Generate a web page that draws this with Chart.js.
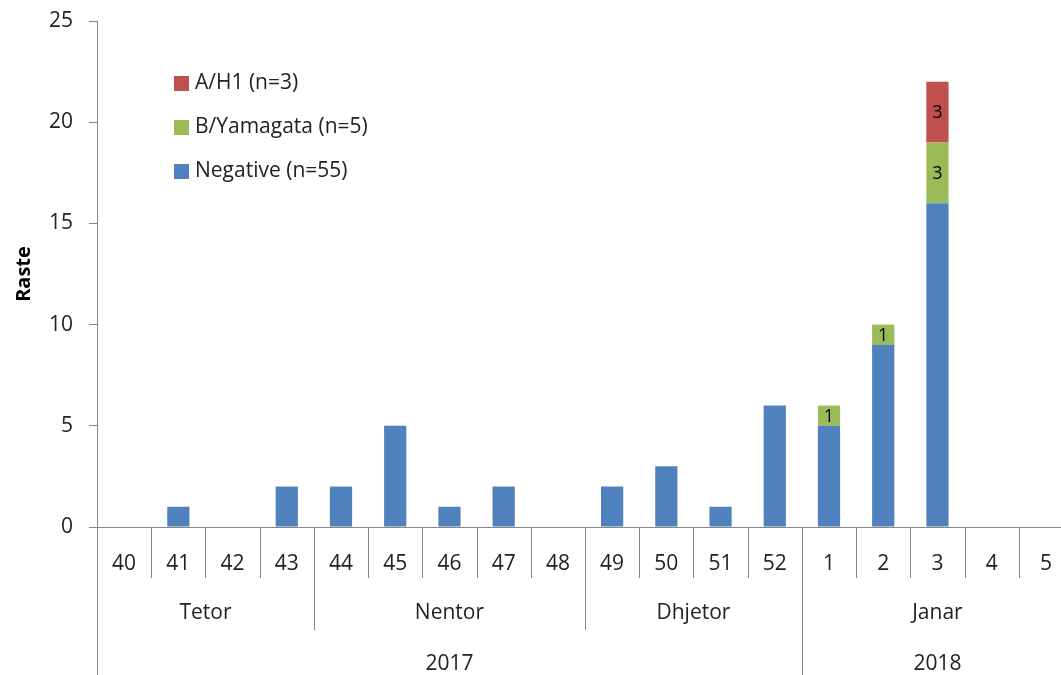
<!DOCTYPE html>
<html>
<head>
<meta charset="utf-8">
<script src="https://cdn.jsdelivr.net/npm/chart.js@4/dist/chart.umd.min.js"></script>
<style>
  html, body { margin: 0; padding: 0; background: #fff; overflow: hidden; }
  #wrap { width: 1061px; height: 675px; overflow: hidden; }
</style>
</head>
<body>
<div id="wrap"><canvas id="chart" width="1075" height="675"></canvas></div>
<script>
// week numbers on the axis, then the month and year groups under them
const weekLabels = ['40', '41', '42', '43', '44', '45', '46', '47', '48', '49', '50', '51', '52', '1', '2', '3', '4', '5'];
const monthLabels = ['Tetor', 'Nentor', 'Dhjetor', 'Janar'];
const monthSpans = [4, 5, 4, 5];
const yearLabels = ['2017', '2018'];
const yearSpans = [13, 5];

// cases per week
const negative = [0, 1, 0, 2, 2, 5, 1, 2, 0, 2, 3, 1, 6, 5, 9, 16, 0, 0];
const bYamagata = [0, 0, 0, 0, 0, 0, 0, 0, 0, 0, 0, 0, 0, 1, 1, 3, 0, 0];
const aH1 = [0, 0, 0, 0, 0, 0, 0, 0, 0, 0, 0, 0, 0, 0, 0, 3, 0, 0];
const seriesNames = ['Negative (n=55)', 'B/Yamagata (n=5)', 'A/H1 (n=3)'];

const FONT = '"Open Sans", sans-serif';
const AXIS = '#868686';

// month / year rows under the week labels
const groupAxis = {
    id: 'groupAxis',
    afterDraw(chart) {
        const ctx = chart.ctx;
        const x = chart.scales.x;
        const bottom = chart.chartArea.bottom;
        const half = (x.getPixelForValue(1) - x.getPixelForValue(0)) / 2;
        const edge = i => x.getPixelForValue(i) - half;

        ctx.save();
        ctx.strokeStyle = AXIS;
        ctx.lineWidth = 1;
        const line = (px, y2) => {
            const xx = Math.round(px) + 0.5;
            ctx.beginPath();
            ctx.moveTo(xx, bottom);
            ctx.lineTo(xx, y2);
            ctx.stroke();
        };
        for (let i = 1; i < weekLabels.length; i++) line(edge(i), 578);
        line(edge(0), 675);

        ctx.fillStyle = '#222';
        ctx.font = '21px ' + FONT;
        ctx.textAlign = 'center';
        ctx.textBaseline = 'middle';

        let start = 0;
        monthLabels.forEach((m, k) => {
            const end = start + monthSpans[k];
            if (start > 0) line(edge(start), 630);
            ctx.fillText(m, (edge(start) + edge(end)) / 2, 613);
            start = end;
        });
        start = 0;
        yearLabels.forEach((y, k) => {
            const end = start + yearSpans[k];
            if (start > 0) line(edge(start), 675);
            ctx.fillText(y, (edge(start) + edge(end)) / 2, 664);
            start = end;
        });
        ctx.restore();
    }
};

// numbers inside the virus segments
const segLabels = {
    id: 'segLabels',
    afterDatasetsDraw(chart) {
        const ctx = chart.ctx;
        ctx.save();
        ctx.fillStyle = '#000';
        ctx.font = '18px ' + FONT;
        ctx.textAlign = 'center';
        ctx.textBaseline = 'middle';
        [1, 2].forEach(d => {
            const meta = chart.getDatasetMeta(d);
            chart.data.datasets[d].data.forEach((v, i) => {
                if (!v) return;
                const bar = meta.data[i];
                ctx.fillText(String(v), bar.x, (bar.y + bar.base) / 2 + 1);
            });
        });
        ctx.restore();
    }
};

// legend inside the plot, top series first
const boxLegend = {
    id: 'boxLegend',
    afterDraw(chart) {
        const ctx = chart.ctx;
        ctx.save();
        ctx.font = '21px ' + FONT;
        ctx.textBaseline = 'middle';
        const items = chart.data.datasets.slice().reverse();
        items.forEach((ds, k) => {
            const cy = 83 + k * 44;
            ctx.fillStyle = ds.backgroundColor;
            ctx.fillRect(174, cy - 7, 15, 15);
            ctx.fillStyle = '#222';
            ctx.fillText(ds.label, 195, cy);
        });
        ctx.restore();
    }
};

const ctx = document.getElementById('chart').getContext('2d');
new Chart(ctx, {
    type: 'bar',
    data: {
        labels: weekLabels,
        datasets: [
            { label: seriesNames[0], data: negative, backgroundColor: '#4F81BD' },
            { label: seriesNames[1], data: bYamagata, backgroundColor: '#9BBB59' },
            { label: seriesNames[2], data: aH1, backgroundColor: '#C0504D' }
        ]
    },
    options: {
        responsive: false,
        animation: false,
        layout: { padding: { top: 21, right: 2, left: 0, bottom: 0 } },
        datasets: { bar: { barPercentage: 0.41, categoryPercentage: 1, borderWidth: 0 } },
        plugins: { legend: { display: false }, tooltip: { enabled: false } },
        scales: {
            x: {
                stacked: true,
                grid: { display: false },
                border: { display: true, color: AXIS },
                ticks: { color: '#222', font: { family: FONT, size: 21 }, padding: 16, maxRotation: 0, autoSkip: false },
                afterFit(s) { s.height = 148; }
            },
            y: {
                stacked: true,
                min: 0,
                max: 25,
                grid: { drawOnChartArea: false, drawTicks: true, tickLength: 8, color: AXIS },
                border: { display: true, color: AXIS },
                ticks: { stepSize: 5, color: '#222', font: { family: FONT, size: 21 }, padding: 16 },
                title: { display: true, text: 'Raste', color: '#000', font: { family: FONT, size: 20, weight: 'bold' }, padding: { top: 12, bottom: 0 } },
                afterFit(s) { s.width = 97; s.paddingTop = 0; s.paddingBottom = 0; }
            }
        }
    },
    plugins: [groupAxis, segLabels, boxLegend]
});
</script>
</body>
</html>
